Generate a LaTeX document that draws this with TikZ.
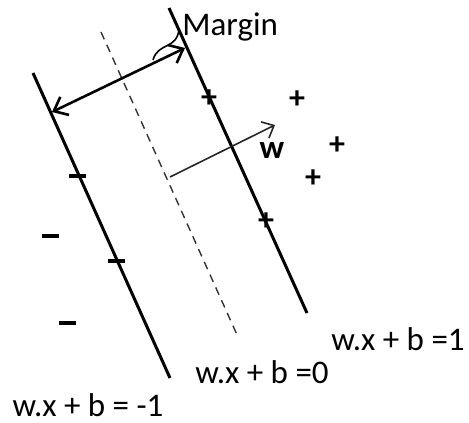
\documentclass[tikz,border=0pt]{standalone}
\usepackage{fontspec}
\setmainfont{Carlito}
\usetikzlibrary{arrows.meta}
\begin{document}
\begin{tikzpicture}[x=0.5pt,y=-0.5pt,
  hyper/.style={line width=1.5pt,black},
  mid/.style={line width=0.7pt,dash pattern=on 4pt off 3pt,black!80},
  lbl/.style={font=\fontsize{16.5}{19}\selectfont,inner sep=0pt},
  mk/.style={font=\fontsize{16}{19}\selectfont\bfseries,inner sep=0pt},
  neg/.style={inner sep=0pt},
  marr/.style={line width=1.3pt,{Straight Barb[length=6pt,width=10pt]}-{Straight Barb[length=6pt,width=10pt]}},
  warr/.style={line width=0.8pt,black!85,-{Straight Barb[length=5pt,width=9pt]}}]
\useasboundingbox (0,0) rectangle (469,422);
% hyperplanes
\coordinate (L1) at (33,73);
\coordinate (L2) at (170,378);
\coordinate (R1) at (169,8);
\coordinate (R2) at (307,313);
\coordinate (D1) at (101,32);
\coordinate (D2) at (238,337);
\draw[hyper] (L1) -- (L2);
\draw[hyper] (R1) -- (R2);
\draw[mid] (D1) -- (D2);
% margin arrow
\coordinate (MA) at (52,112);
\coordinate (MB) at (185,48);
\draw[marr] (MA) -- (MB);
\coordinate (C1) at (153,60);
\coordinate (C2) at (179,29);
\draw[line width=0.8pt] (C1) .. controls (158,42) and (177,50) .. (C2);
\node[lbl,anchor=west] (margin) at (182,27) {Margin};
% w vector
\coordinate (W0) at (170,177);
\coordinate (W1) at (275,125);
\draw[warr] (W0) -- (W1);
\node[lbl,font=\fontsize{16.5}{19}\selectfont\bfseries] (w) at (272,150) {w};
% support vector marks
\node[mk] (p1) at (209,99) {+};
\node[mk] (p2) at (266,222) {+};
\node[neg] (m1) at (77,176) {\rule{8.5pt}{1.6pt}};
\node[neg] (m2) at (116,261) {\rule{8.5pt}{1.6pt}};
% other points
\node[mk] (p3) at (297,100) {+};
\node[mk] (p4) at (337,146) {+};
\node[mk] (p5) at (313,179) {+};
\node[neg] (m3) at (50,236) {\rule{8.5pt}{1.6pt}};
\node[neg] (m4) at (67,323) {\rule{8.5pt}{1.6pt}};
% labels
\node[lbl] (lab1) at (398,339) {w.x + b =1};
\node[lbl] (lab0) at (262,372) {w.x + b =0};
\node[lbl] (labm) at (88,405) {w.x + b = -1};
\end{tikzpicture}
\end{document}
